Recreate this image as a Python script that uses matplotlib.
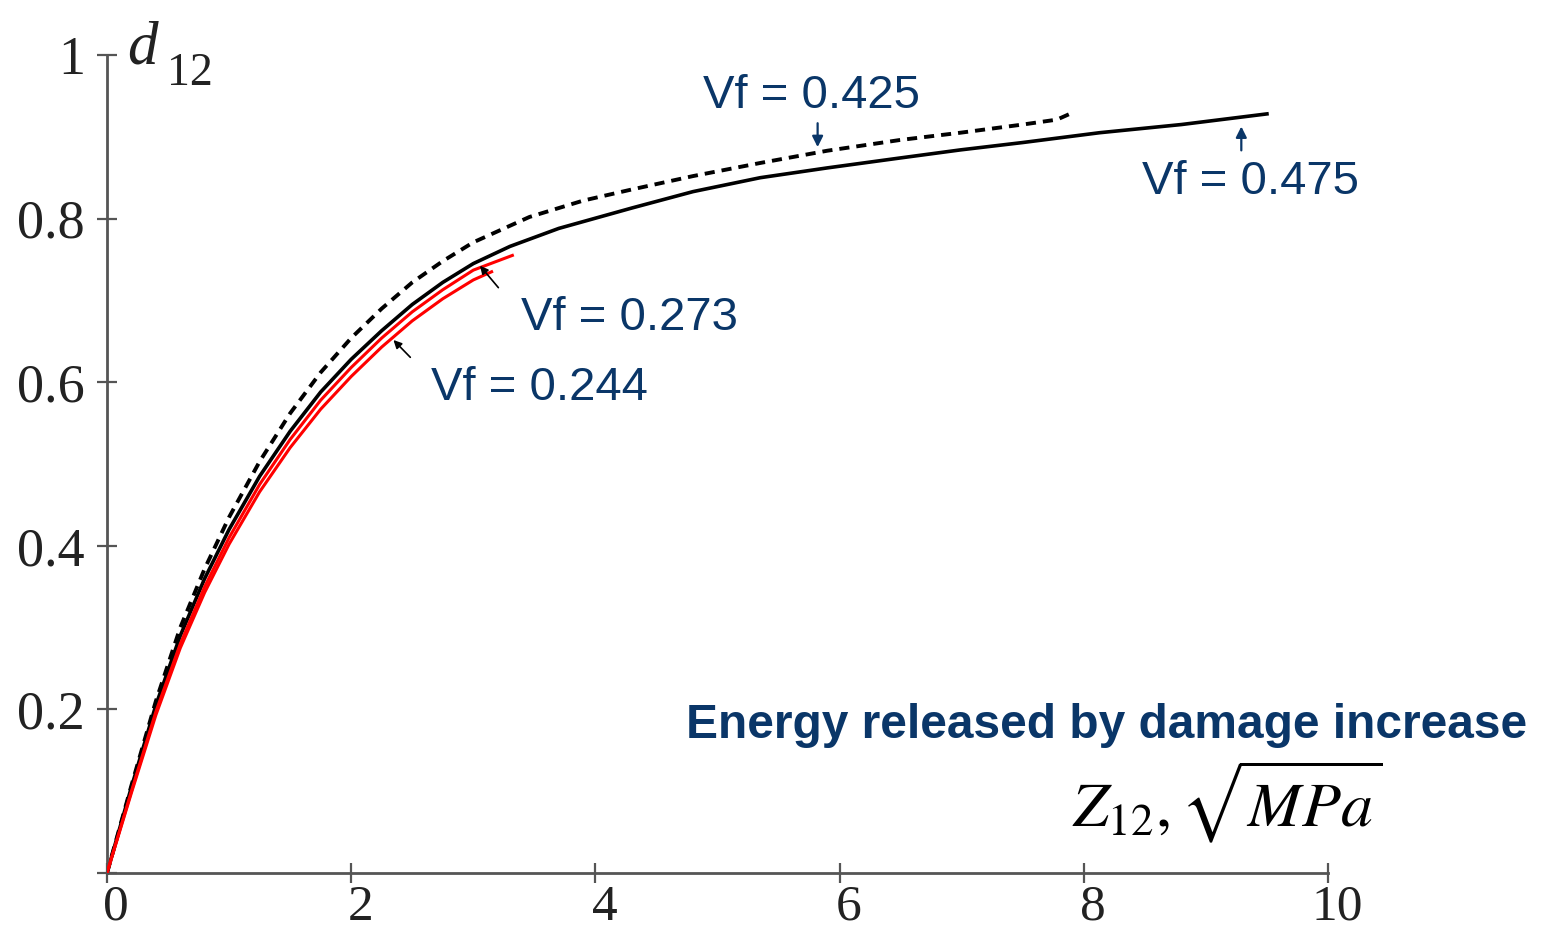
import matplotlib
matplotlib.use('Agg')
import matplotlib.pyplot as plt
import matplotlib.transforms as mtransforms

plt.rcParams['mathtext.fontset'] = 'stix'

# damage d12 vs Z12
x_475 = [0, 0.2, 0.4, 0.6, 0.8, 1.0, 1.25, 1.5, 1.75, 2.0, 2.25, 2.5, 2.75, 3.0, 3.3, 3.7,
         4.3, 4.8, 5.35, 5.9, 6.49, 6.99, 7.5, 8.13, 8.8, 9.50]
d_475 = [0, 0.105, 0.205, 0.29, 0.36, 0.42, 0.485, 0.54, 0.588, 0.628, 0.663, 0.695, 0.722,
         0.745, 0.766, 0.788, 0.813, 0.833, 0.850, 0.862, 0.874, 0.884, 0.893, 0.905, 0.915, 0.928]

x_425 = [0, 0.2, 0.4, 0.6, 0.8, 1.0, 1.25, 1.5, 1.75, 2.0, 2.25, 2.5, 2.75, 3.0, 3.46, 3.9,
         4.28, 4.8, 5.35, 5.9, 6.49, 6.99, 7.5, 7.78, 7.90]
d_425 = [0, 0.107, 0.21, 0.30, 0.372, 0.435, 0.503, 0.562, 0.612, 0.654, 0.690, 0.722, 0.748,
         0.771, 0.802, 0.822, 0.835, 0.852, 0.868, 0.883, 0.896, 0.905, 0.915, 0.921, 0.929]

x_273 = [0, 0.2, 0.4, 0.6, 0.8, 1.0, 1.25, 1.5, 1.75, 2.0, 2.25, 2.5, 2.75, 3.0, 3.32]
d_273 = [0, 0.1, 0.197, 0.28, 0.35, 0.41, 0.475, 0.53, 0.578, 0.618, 0.654, 0.686, 0.713,
         0.737, 0.755]

x_244 = [0, 0.2, 0.4, 0.6, 0.8, 1.0, 1.25, 1.5, 1.75, 2.0, 2.25, 2.5, 2.75, 3.0, 3.15]
d_244 = [0, 0.098, 0.193, 0.275, 0.343, 0.402, 0.466, 0.52, 0.567, 0.607, 0.643, 0.675,
         0.702, 0.725, 0.735]

xticks = [0, 2, 4, 6, 8, 10]
yticks = [0, 0.2, 0.4, 0.6, 0.8, 1]
ytick_labels = ['', '0.2', '0.4', '0.6', '0.8', '1']

blue = '#0a3668'

fig = plt.figure(figsize=(15.46, 9.34), dpi=100)
ax = fig.add_axes([107/1546, 61/934, 1221/1546, 818/934])

ax.plot(x_244, d_244, color='red', lw=2.2, zorder=3)
ax.plot(x_273, d_273, color='red', lw=2.2, zorder=3)
ax.plot(x_475, d_475, color='black', lw=2.6, zorder=2)
ax.plot(x_425, d_425, color='black', lw=2.8, ls=(0, (2.6, 1.8)), zorder=2)

ax.set_xlim(0, 10)
ax.set_ylim(0, 1)
ax.set_xticks(xticks)
ax.set_xticklabels([str(t) for t in xticks])
ax.set_yticks(yticks)
ax.set_yticklabels(ytick_labels)

for s in ['top', 'right']:
    ax.spines[s].set_visible(False)
for s in ['left', 'bottom']:
    ax.spines[s].set_color('#555555')
    ax.spines[s].set_linewidth(2)
ax.tick_params(direction='inout', length=14, width=1.6, color='#555555',
               labelcolor='#222222')
ax.tick_params(axis='x', labelsize=37, pad=1)
ax.tick_params(axis='y', labelsize=39, pad=9)
shift = mtransforms.ScaledTranslation(9/100, 0, fig.dpi_scale_trans)
for lab in ax.get_xticklabels():
    lab.set_transform(lab.get_transform() + shift)
for lab in ax.get_xticklabels() + ax.get_yticklabels():
    lab.set_family('Liberation Serif')

# axis titles
fig.text(127/1546, 1 - 64/934, 'd', fontsize=44, style='italic', family='Liberation Serif',
         color='#222222', ha='left', va='baseline')
fig.text(167/1546, 1 - 85/934, '12', fontsize=33, family='Liberation Serif',
         color='#222222', ha='left', va='baseline')
fig.text(1527/1546, 1 - 738/934, 'Energy released by damage increase', fontsize=34.5,
         fontweight='bold', color=blue, family='Liberation Sans', ha='right', va='baseline')
fig.text(1072/1546, 1 - 826/934, r'$Z_{12},\sqrt{MPa}$', fontsize=46, color='black',
         ha='left', va='baseline')

# curve labels
lab_kw = dict(fontsize=34, color=blue, family='Liberation Sans', ha='left', va='baseline')
fig.text(703/1546, 1 - 108/934, 'Vf = 0.425', **lab_kw)
fig.text(1142/1546, 1 - 194/934, 'Vf = 0.475', **lab_kw)
fig.text(521/1546, 1 - 330/934, 'Vf = 0.273', **lab_kw)
fig.text(431/1546, 1 - 400/934, 'Vf = 0.244', **lab_kw)

ax.annotate('', xy=(5.82, 0.884), xytext=(5.82, 0.92),
            arrowprops=dict(arrowstyle='-|>', color=blue, lw=1.6, mutation_scale=16))
ax.annotate('', xy=(9.29, 0.916), xytext=(9.29, 0.88),
            arrowprops=dict(arrowstyle='-|>', color=blue, lw=1.6, mutation_scale=16))
ax.annotate('', xy=(3.04, 0.745), xytext=(3.22, 0.713),
            arrowprops=dict(arrowstyle='-|>', color='black', lw=1.2, mutation_scale=12))
ax.annotate('', xy=(2.33, 0.654), xytext=(2.5, 0.628),
            arrowprops=dict(arrowstyle='-|>', color='black', lw=1.2, mutation_scale=12))

fig.savefig('out.png', dpi=100)
